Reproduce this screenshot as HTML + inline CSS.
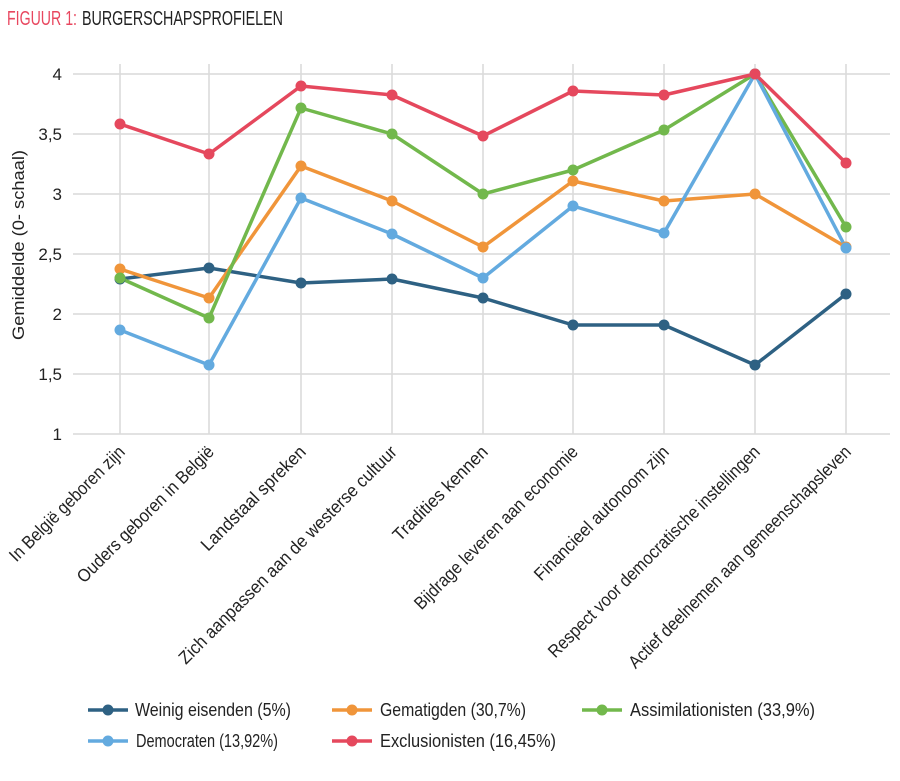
<!DOCTYPE html>
<html><head><meta charset="utf-8"><style>
body{margin:0;background:#fff;}
svg{display:block;font-family:"Liberation Sans Narrow","Liberation Sans",sans-serif;}
</style></head><body>
<svg width="900" height="781" viewBox="0 0 900 781">
<text x="7" y="25" font-size="20" fill="#e8475f" textLength="70" lengthAdjust="spacingAndGlyphs">FIGUUR 1:</text>
<text x="82" y="25" font-size="20" fill="#222" textLength="201" lengthAdjust="spacingAndGlyphs">BURGERSCHAPSPROFIELEN</text>
<g stroke="#d9d9d9" stroke-width="1.5">
<line x1="73" x2="890" y1="74" y2="74"/><line x1="73" x2="890" y1="134" y2="134"/><line x1="73" x2="890" y1="194" y2="194"/><line x1="73" x2="890" y1="254" y2="254"/><line x1="73" x2="890" y1="314" y2="314"/><line x1="73" x2="890" y1="374" y2="374"/><line x1="73" x2="890" y1="434" y2="434"/>
<line x1="120" x2="120" y1="64" y2="434"/><line x1="209" x2="209" y1="64" y2="434"/><line x1="301" x2="301" y1="64" y2="434"/><line x1="392" x2="392" y1="64" y2="434"/><line x1="483" x2="483" y1="64" y2="434"/><line x1="573" x2="573" y1="64" y2="434"/><line x1="664" x2="664" y1="64" y2="434"/><line x1="755" x2="755" y1="64" y2="434"/><line x1="846" x2="846" y1="64" y2="434"/>
</g>
<g font-size="17" fill="#222" text-anchor="end">
<text x="62" y="80">4</text><text x="62" y="140">3,5</text><text x="62" y="200">3</text><text x="62" y="260">2,5</text><text x="62" y="320">2</text><text x="62" y="380">1,5</text><text x="62" y="440">1</text>
</g>
<text transform="translate(24,245) rotate(-90)" font-size="17" fill="#222" text-anchor="middle" textLength="190" lengthAdjust="spacingAndGlyphs">Gemiddelde (0- schaal)</text>
<g font-size="18" fill="#222" text-anchor="end">
<text transform="translate(126,453) rotate(-45)" textLength="155" lengthAdjust="spacingAndGlyphs">In België geboren zijn</text>
<text transform="translate(215,453) rotate(-45)" textLength="185" lengthAdjust="spacingAndGlyphs">Ouders geboren in België</text>
<text transform="translate(307,453) rotate(-45)" textLength="140" lengthAdjust="spacingAndGlyphs">Landstaal spreken</text>
<text transform="translate(398,453) rotate(-45)" textLength="300" lengthAdjust="spacingAndGlyphs">Zich aanpassen aan de westerse cultuur</text>
<text transform="translate(489,453) rotate(-45)" textLength="126" lengthAdjust="spacingAndGlyphs">Tradities kennen</text>
<text transform="translate(579,453) rotate(-45)" textLength="223" lengthAdjust="spacingAndGlyphs">Bijdrage leveren aan economie</text>
<text transform="translate(670,453) rotate(-45)" textLength="182" lengthAdjust="spacingAndGlyphs">Financieel autonoom zijn</text>
<text transform="translate(761,453) rotate(-45)" textLength="291" lengthAdjust="spacingAndGlyphs">Respect voor democratische instellingen</text>
<text transform="translate(852,453) rotate(-45)" textLength="306" lengthAdjust="spacingAndGlyphs">Actief deelnemen aan gemeenschapsleven</text>
</g>
<g fill="none" stroke-width="3.5" stroke-linejoin="round">
<polyline stroke="#2e6183" points="120,279 209,268 301,283 392,279 483,298 573,325 664,325 755,365 846,294"/>
<polyline stroke="#f0953a" points="120,269 209,298 301,166 392,201 483,247 573,181 664,201 755,194 846,247"/>
<polyline stroke="#72b84c" points="120,278 209,318 301,108 392,134 483,194 573,170 664,130 755,74 846,227"/>
<polyline stroke="#63aadf" points="120,330 209,365 301,198 392,234 483,278 573,206 664,233 755,74 846,248"/>
<polyline stroke="#e5485d" points="120,124 209,154 301,86 392,95 483,136 573,91 664,95 755,74 846,163"/>
</g>
<g fill="#2e6183"><circle cx="120" cy="279" r="5.5"/><circle cx="209" cy="268" r="5.5"/><circle cx="301" cy="283" r="5.5"/><circle cx="392" cy="279" r="5.5"/><circle cx="483" cy="298" r="5.5"/><circle cx="573" cy="325" r="5.5"/><circle cx="664" cy="325" r="5.5"/><circle cx="755" cy="365" r="5.5"/><circle cx="846" cy="294" r="5.5"/></g>
<g fill="#f0953a"><circle cx="120" cy="269" r="5.5"/><circle cx="209" cy="298" r="5.5"/><circle cx="301" cy="166" r="5.5"/><circle cx="392" cy="201" r="5.5"/><circle cx="483" cy="247" r="5.5"/><circle cx="573" cy="181" r="5.5"/><circle cx="664" cy="201" r="5.5"/><circle cx="755" cy="194" r="5.5"/><circle cx="846" cy="247" r="5.5"/></g>
<g fill="#72b84c"><circle cx="120" cy="278" r="5.5"/><circle cx="209" cy="318" r="5.5"/><circle cx="301" cy="108" r="5.5"/><circle cx="392" cy="134" r="5.5"/><circle cx="483" cy="194" r="5.5"/><circle cx="573" cy="170" r="5.5"/><circle cx="664" cy="130" r="5.5"/><circle cx="755" cy="74" r="5.5"/><circle cx="846" cy="227" r="5.5"/></g>
<g fill="#63aadf"><circle cx="120" cy="330" r="5.5"/><circle cx="209" cy="365" r="5.5"/><circle cx="301" cy="198" r="5.5"/><circle cx="392" cy="234" r="5.5"/><circle cx="483" cy="278" r="5.5"/><circle cx="573" cy="206" r="5.5"/><circle cx="664" cy="233" r="5.5"/><circle cx="755" cy="74" r="5.5"/><circle cx="846" cy="248" r="5.5"/></g>
<g fill="#e5485d"><circle cx="120" cy="124" r="5.5"/><circle cx="209" cy="154" r="5.5"/><circle cx="301" cy="86" r="5.5"/><circle cx="392" cy="95" r="5.5"/><circle cx="483" cy="136" r="5.5"/><circle cx="573" cy="91" r="5.5"/><circle cx="664" cy="95" r="5.5"/><circle cx="755" cy="74" r="5.5"/><circle cx="846" cy="163" r="5.5"/></g>
<g stroke-width="3.5" font-size="18" fill="#222">
<line x1="88" x2="128" y1="710" y2="710" stroke="#2e6183"/><circle cx="108" cy="710" r="5.5" fill="#2e6183"/><text x="135" y="716" textLength="156" lengthAdjust="spacingAndGlyphs">Weinig eisenden (5%)</text>
<line x1="332" x2="372" y1="710" y2="710" stroke="#f0953a"/><circle cx="352" cy="710" r="5.5" fill="#f0953a"/><text x="380" y="716" textLength="146" lengthAdjust="spacingAndGlyphs">Gematigden (30,7%)</text>
<line x1="582" x2="622" y1="710" y2="710" stroke="#72b84c"/><circle cx="602" cy="710" r="5.5" fill="#72b84c"/><text x="630" y="716" textLength="185" lengthAdjust="spacingAndGlyphs">Assimilationisten (33,9%)</text>
<line x1="88" x2="128" y1="741" y2="741" stroke="#63aadf"/><circle cx="108" cy="741" r="5.5" fill="#63aadf"/><text x="136" y="747" textLength="142" lengthAdjust="spacingAndGlyphs">Democraten (13,92%)</text>
<line x1="332" x2="372" y1="741" y2="741" stroke="#e5485d"/><circle cx="352" cy="741" r="5.5" fill="#e5485d"/><text x="380" y="747" textLength="176" lengthAdjust="spacingAndGlyphs">Exclusionisten (16,45%)</text>
</g>
</svg>
</body></html>
